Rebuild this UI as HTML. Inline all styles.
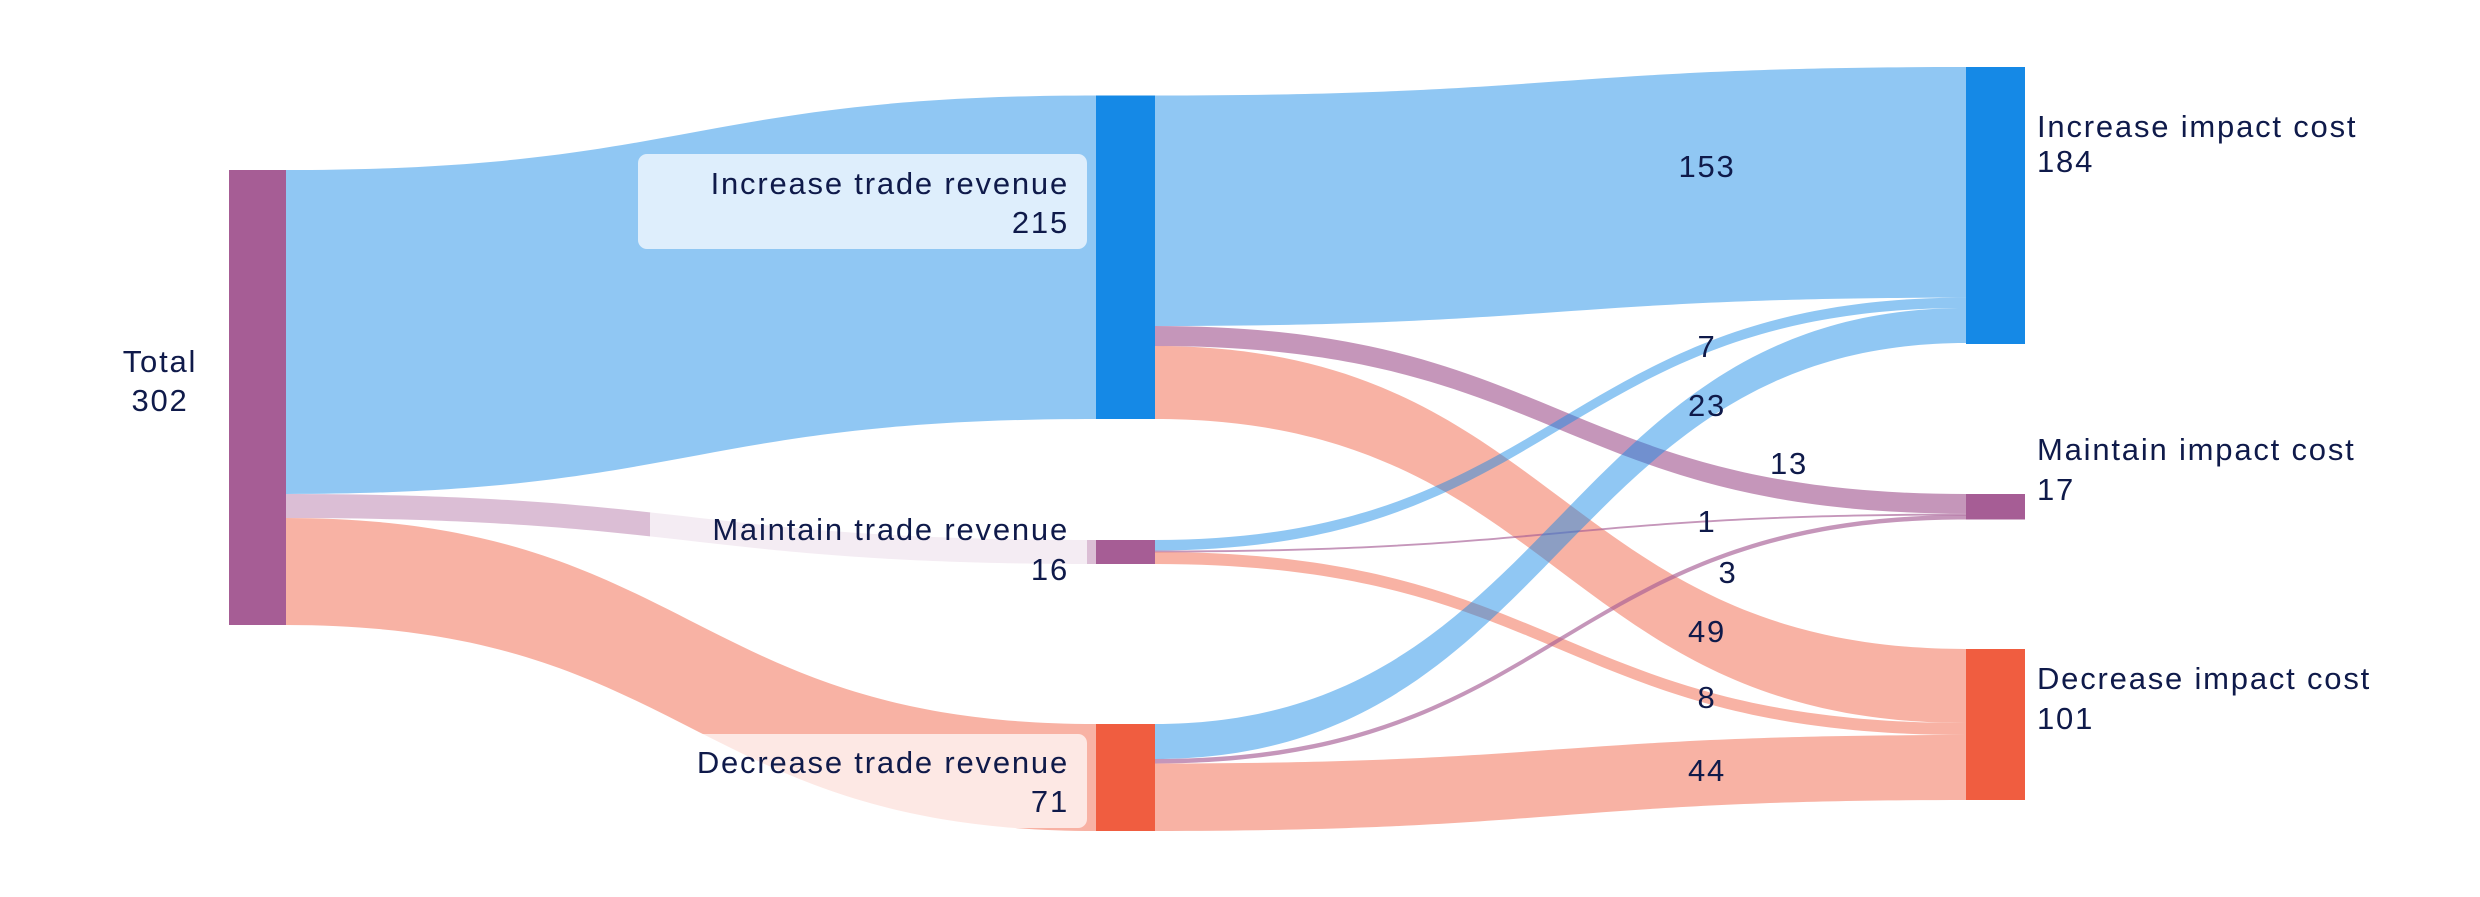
<!DOCTYPE html>
<html><head><meta charset="utf-8"><style>
html,body{margin:0;padding:0;background:#fff;}
svg{display:block;}
text{font-family:"Liberation Sans",sans-serif;font-size:31px;letter-spacing:1.8px;fill:#0f1a4a;}
</style></head><body>
<svg width="2480" height="897" viewBox="0 0 2480 897" xmlns="http://www.w3.org/2000/svg">
<g>
<path d="M286,170 C691,170 691,95.5 1096,95.5 L1096,419 C691,419 691,494 286,494 Z" fill="#1589e6" fill-opacity="0.474"/>
<path d="M286,494 C691,494 691,540 1096,540 L1096,564 C691,564 691,518 286,518 Z" fill="#a65d95" fill-opacity="0.4"/>
<path d="M286,518 C691,518 691,724 1096,724 L1096,831 C691,831 691,625 286,625 Z" fill="#f05d40" fill-opacity="0.474"/>

<path d="M1155,95.5 C1560,95.5 1560,67 1966,67 L1966,297.6 C1560,297.6 1560,326 1155,326 Z" fill="#1589e6" fill-opacity="0.474"/>
<path d="M1155,326 C1560,326 1560,494 1966,494 L1966,513.6 C1560,513.6 1560,346 1155,346 Z" fill="#a65d95" fill-opacity="0.65"/>
<path d="M1155,346 C1560,346 1560,649 1966,649 L1966,723 C1560,723 1560,419 1155,419 Z" fill="#f05d40" fill-opacity="0.474"/>
<path d="M1155,540 C1560,540 1560,297.6 1966,297.6 L1966,308 C1560,308 1560,550.5 1155,550.5 Z" fill="#1589e6" fill-opacity="0.474"/>
<path d="M1155,550.5 C1560,550.5 1560,513.6 1966,513.6 L1966,515.5 C1560,515.5 1560,552.4 1155,552.4 Z" fill="#a65d95" fill-opacity="0.65"/>
<path d="M1155,552 C1560,552 1560,723 1966,723 L1966,735 C1560,735 1560,564 1155,564 Z" fill="#f05d40" fill-opacity="0.474"/>
<path d="M1155,724 C1560,724 1560,308 1966,308 L1966,343 C1560,343 1560,759 1155,759 Z" fill="#1589e6" fill-opacity="0.474"/>
<path d="M1155,759 C1560,759 1560,515 1966,515 L1966,519.5 C1560,519.5 1560,763.5 1155,763.5 Z" fill="#a65d95" fill-opacity="0.65"/>
<path d="M1155,763.5 C1560,763.5 1560,735 1966,735 L1966,800 C1560,800 1560,831 1155,831 Z" fill="#f05d40" fill-opacity="0.474"/>
</g>
<rect x="638" y="154" width="449" height="95" rx="9" fill="#fff" fill-opacity="0.7"/>
<rect x="650" y="505" width="437" height="90" rx="9" fill="#fff" fill-opacity="0.7"/>
<rect x="693" y="734" width="394" height="94" rx="9" fill="#fff" fill-opacity="0.7"/>

<rect x="229" y="170" width="57" height="455" fill="#a65d95"/>
<rect x="1096" y="95.5" width="59" height="323.5" fill="#1589e6"/>
<rect x="1096" y="540" width="59" height="24" fill="#a65d95"/>
<rect x="1096" y="724" width="59" height="107" fill="#f05d40"/>
<rect x="1966" y="67" width="59" height="277" fill="#1589e6"/>
<rect x="1966" y="494" width="59" height="25.5" fill="#a65d95"/>
<rect x="1966" y="649" width="59" height="151" fill="#f05d40"/>

<text x="160" y="372" text-anchor="middle">Total</text>
<text x="160" y="411" text-anchor="middle">302</text>
<text x="1069" y="194" text-anchor="end">Increase trade revenue</text>
<text x="1069" y="233" text-anchor="end">215</text>
<text x="1069" y="540" text-anchor="end">Maintain trade revenue</text>
<text x="1069" y="580" text-anchor="end">16</text>
<text x="1069" y="773" text-anchor="end">Decrease trade revenue</text>
<text x="1069" y="812" text-anchor="end">71</text>
<text x="2037" y="137">Increase impact cost</text>
<text x="2037" y="172">184</text>
<text x="2037" y="460">Maintain impact cost</text>
<text x="2037" y="500">17</text>
<text x="2037" y="689">Decrease impact cost</text>
<text x="2037" y="729">101</text>

<text x="1707" y="177" text-anchor="middle">153</text>
<text x="1707" y="357" text-anchor="middle">7</text>
<text x="1707" y="416" text-anchor="middle">23</text>
<text x="1789" y="474" text-anchor="middle">13</text>
<text x="1707" y="532" text-anchor="middle">1</text>
<text x="1728" y="583" text-anchor="middle">3</text>
<text x="1707" y="642" text-anchor="middle">49</text>
<text x="1707" y="708" text-anchor="middle">8</text>
<text x="1707" y="781" text-anchor="middle">44</text>
</svg>
</body></html>
